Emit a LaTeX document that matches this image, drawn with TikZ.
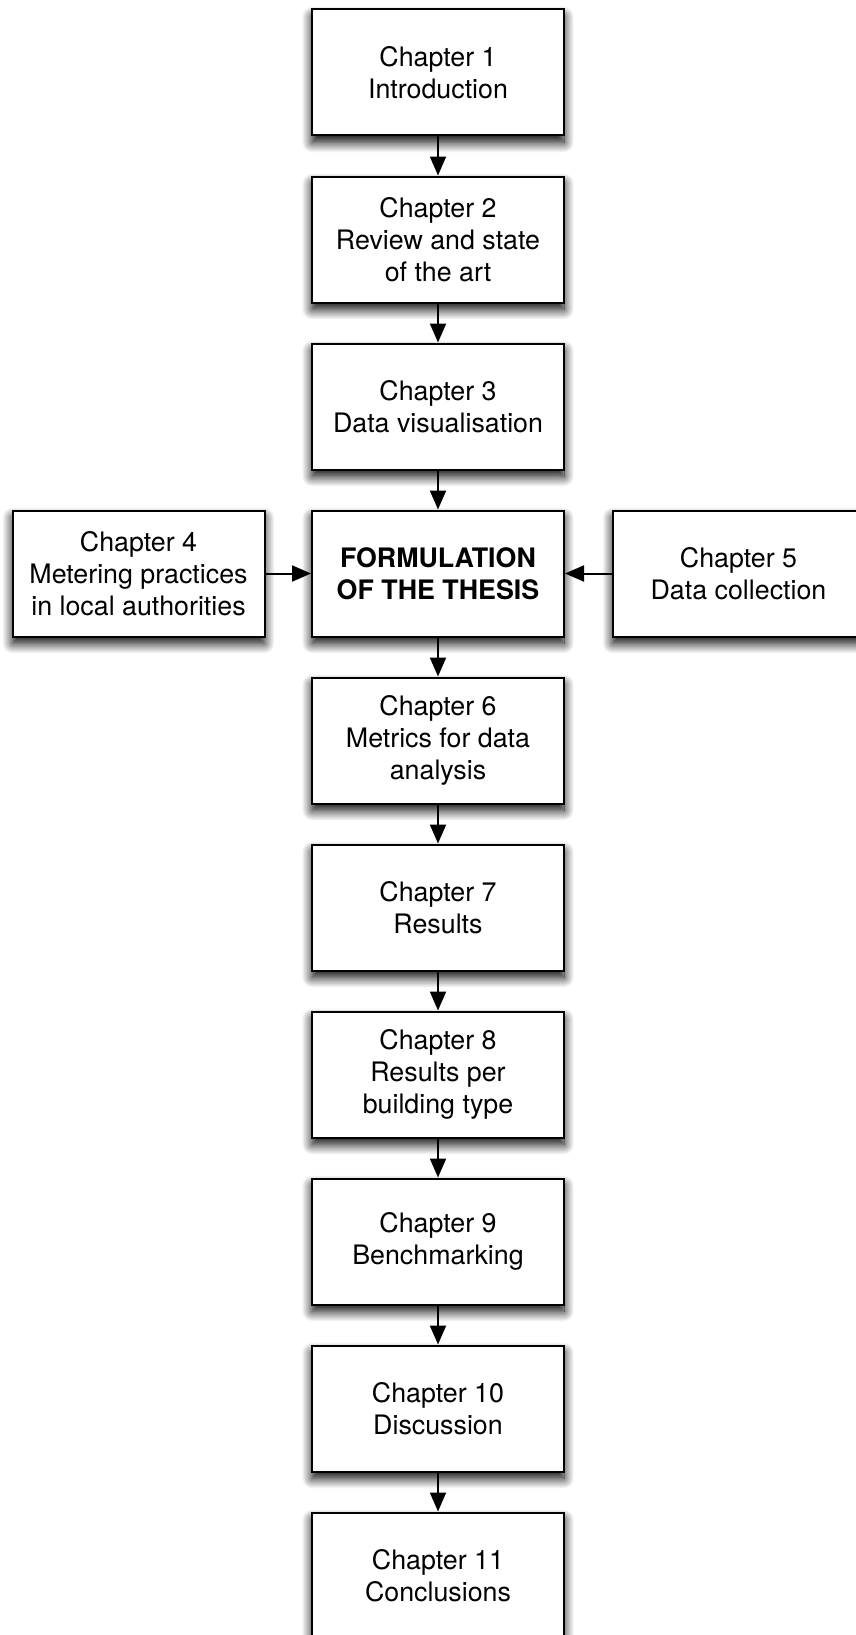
\documentclass[tikz,border=0pt]{standalone}
\usepackage{fontspec}
\setmainfont{TeX Gyre Heros}
\usetikzlibrary{arrows.meta,shadows.blur}

\tikzset{
  chapbox/.style={
    draw=black, line width=2pt, fill=white,
    minimum width=252pt, minimum height=126pt,
    align=center, inner sep=4pt,
    font=\fontsize{26.8}{32.2}\selectfont,
    blur shadow={shadow xshift=0pt, shadow yshift=-7pt,
                 shadow blur radius=10pt, shadow blur steps=14,
                 shadow opacity=100}
  },
  flow/.style={line width=2pt, -{Triangle[length=19pt,width=16pt]}}
}

\begin{document}
\begin{tikzpicture}[x=1pt,y=-1pt]
  \useasboundingbox (0,0) rectangle (855,1635);

  % main column of chapters
  \node[chapbox] (c1)   at (438,  72.5) {Chapter 1\\Introduction};
  \node[chapbox] (c2)   at (438, 239.5) {Chapter 2\\Review and state\\of the art};
  \node[chapbox] (c3)   at (438, 406.5) {Chapter 3\\Data visualisation};
  \node[chapbox] (form) at (438, 573.5) {\bfseries FORMULATION\\\bfseries OF THE THESIS};
  \node[chapbox] (c6)   at (438, 740.5) {Chapter 6\\Metrics for data\\analysis};
  \node[chapbox] (c7)   at (438, 907.5) {Chapter 7\\Results};
  \node[chapbox] (c8)   at (438,1074.5) {Chapter 8\\Results per\\building type};
  \node[chapbox] (c9)   at (438,1241.5) {Chapter 9\\Benchmarking};
  \node[chapbox] (c10)  at (438,1408.5) {Chapter 10\\Discussion};
  \node[chapbox] (c11)  at (438,1575.5) {Chapter 11\\Conclusions};

  % side inputs
  \node[chapbox] (c4) at (138.5,573.5) {Chapter 4\\Metering practices\\in local authorities};
  \node[chapbox] (c5) at (738.5,573.5) {Chapter 5\\Data collection};

  % connectors
  \draw[flow] (c1) -- (c2);
  \draw[flow] (c2) -- (c3);
  \draw[flow] (c3) -- (form);
  \draw[flow] (form) -- (c6);
  \draw[flow] (c6) -- (c7);
  \draw[flow] (c7) -- (c8);
  \draw[flow] (c8) -- (c9);
  \draw[flow] (c9) -- (c10);
  \draw[flow] (c10) -- (c11);
  \draw[flow] (c4) -- (form);
  \draw[flow] (c5) -- (form);
\end{tikzpicture}
\end{document}
